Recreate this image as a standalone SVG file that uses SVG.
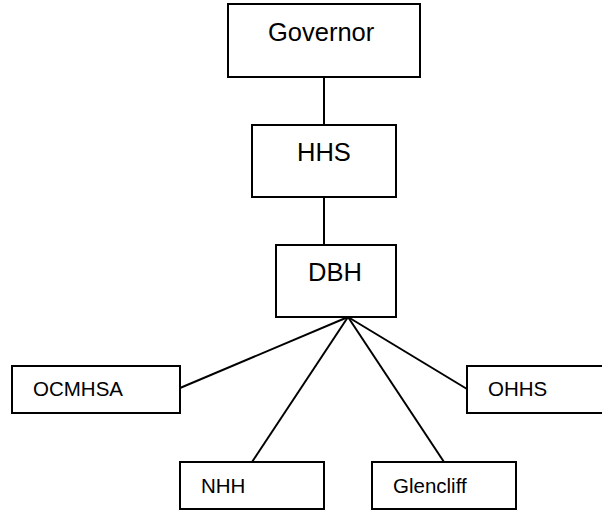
<svg xmlns="http://www.w3.org/2000/svg" width="602" height="513" viewBox="0 0 602 513">
<style>
.box{fill:#fff;stroke:#000;stroke-width:2}
.big{font-family:"Liberation Sans",Arial,sans-serif;font-size:25.5px;fill:#000}
.small{font-family:"Liberation Sans",Arial,sans-serif;font-size:20.5px;fill:#000}
.conn line{stroke:#000;stroke-width:2}
</style>
<rect width="602" height="513" fill="#fff"/>
<g id="connectors" class="conn">
<line x1="324" y1="77" x2="324" y2="125"/>
<line x1="324" y1="197" x2="324" y2="245"/>
<line x1="348" y1="317" x2="180" y2="388"/>
<line x1="348" y1="317" x2="467" y2="389"/>
<line x1="348" y1="317" x2="252" y2="462"/>
<line x1="348" y1="317" x2="444" y2="462"/>
</g>
<g id="governor">
<rect class="box" x="228" y="4" width="192" height="73"/>
<text class="big" x="268" y="41">Governor</text>
</g>
<g id="hhs">
<rect class="box" x="252" y="125" width="144" height="72"/>
<text class="big" x="297" y="161">HHS</text>
</g>
<g id="dbh">
<rect class="box" x="276" y="245" width="120" height="72"/>
<text class="big" x="308" y="281">DBH</text>
</g>
<g id="ocmhsa">
<rect class="box" x="12" y="366" width="168" height="47"/>
<text class="small" x="33" y="396">OCMHSA</text>
</g>
<g id="ohhs">
<rect class="box" x="467" y="366" width="140" height="47"/>
<text class="small" x="488" y="396">OHHS</text>
</g>
<g id="nhh">
<rect class="box" x="180" y="462" width="144" height="47"/>
<text class="small" x="201" y="493">NHH</text>
</g>
<g id="glencliff">
<rect class="box" x="372" y="462" width="144" height="47"/>
<text class="small" x="393" y="493">Glencliff</text>
</g>
</svg>
